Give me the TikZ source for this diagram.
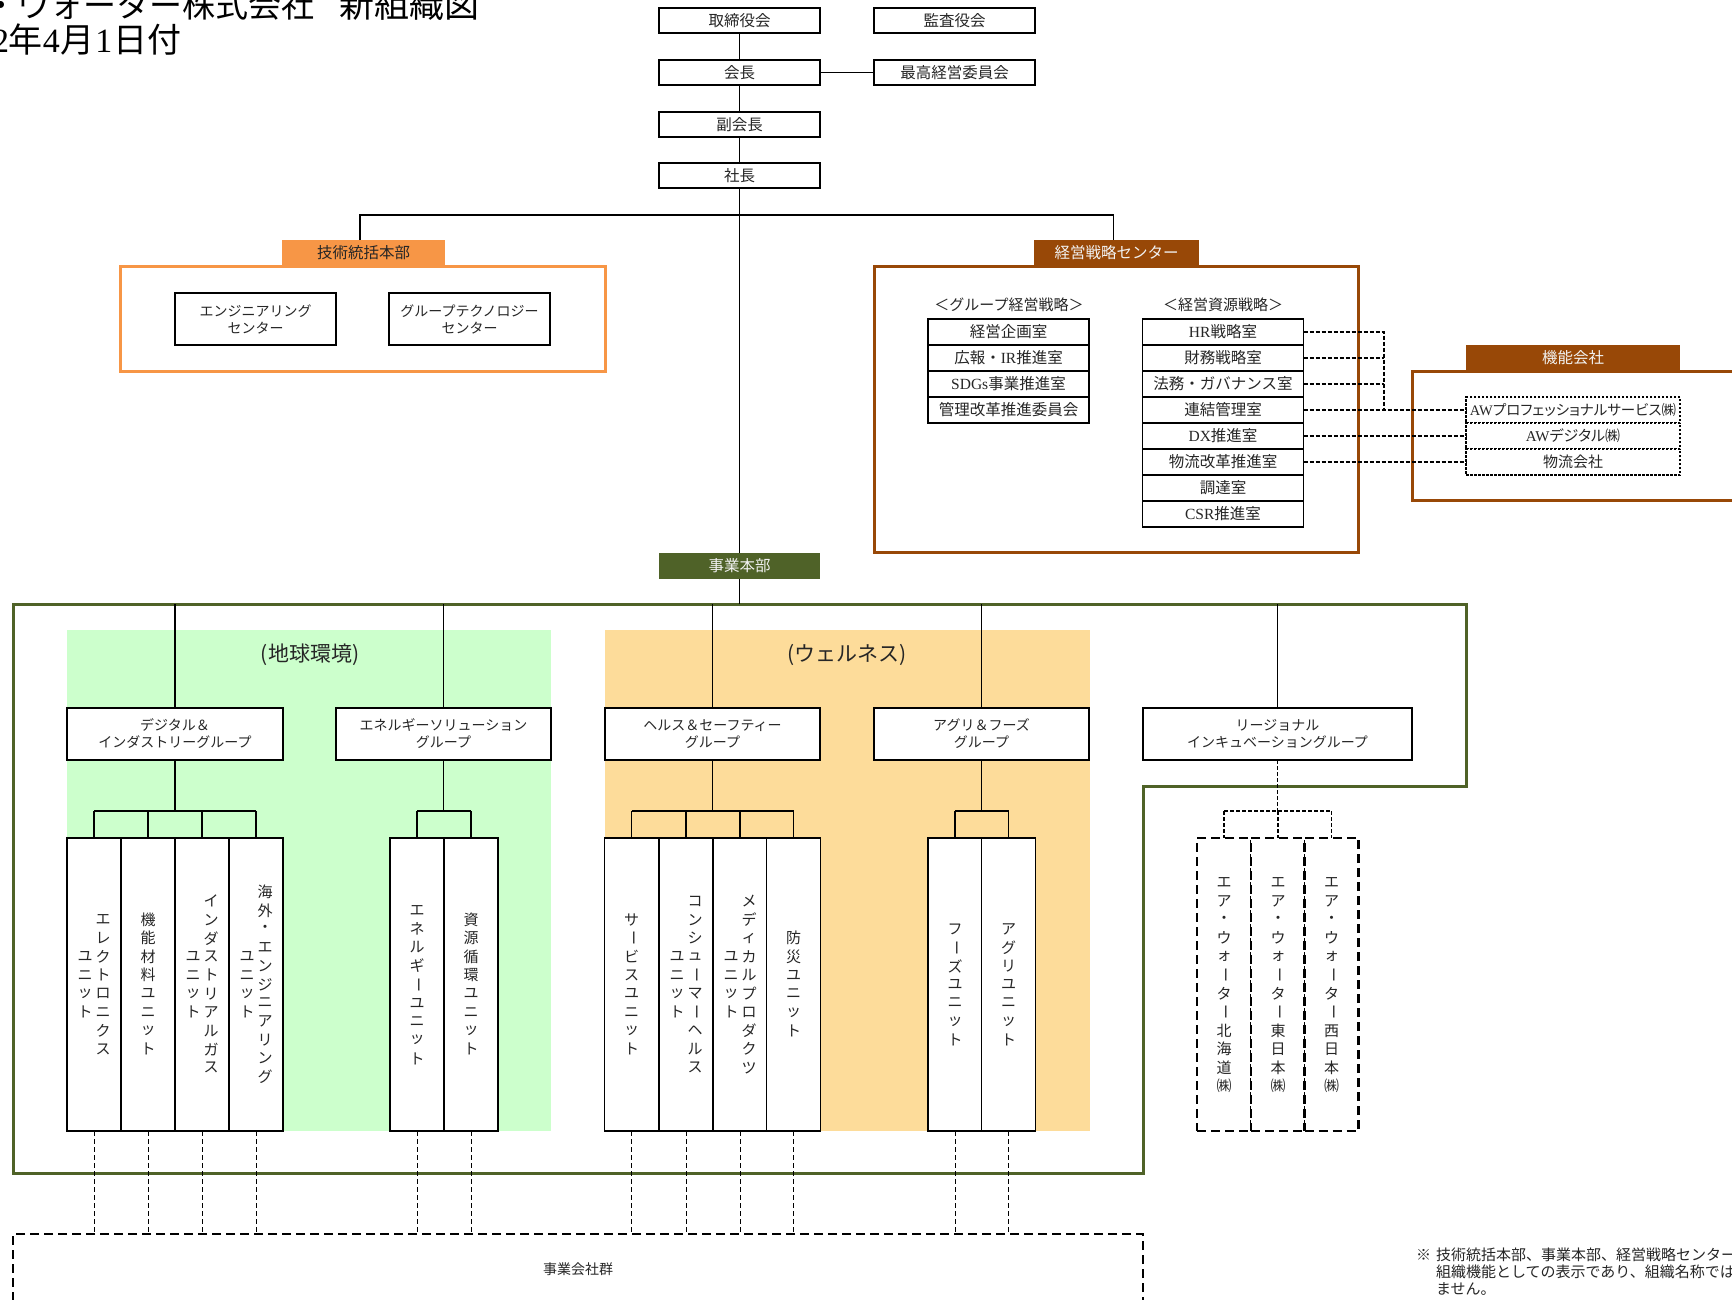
\documentclass[tikz,border=0pt]{standalone}
\usepackage{fontspec}
\usepackage{graphicx}
\setmainfont{Noto Sans CJK JP}
\newfontfamily\lat{Liberation Serif}
\newfontfamily\pfont[RawFeature=+palt]{Noto Sans CJK JP}
\newcommand\fs[2]{\fontsize{#1pt}{#2pt}\selectfont}
\definecolor{orng}{HTML}{F79646}
\definecolor{brwn}{HTML}{984807}
\definecolor{olv}{HTML}{4F6228}
\definecolor{lgrn}{HTML}{CCFFCC}
\definecolor{lyel}{HTML}{FDDC9A}
\definecolor{txt}{HTML}{262626}
\definecolor{wtxt}{HTML}{F2F2F2}

\ExplSyntaxOn
\cs_new_protected:Npn \vt_glyph:n #1
 {
  \str_if_eq:nnTF {#1} {ー}
   { \rotatebox[origin=c]{-90}{ー} }
   { #1 }
 }
\NewDocumentCommand \vcol { m }
 {
  \vbox:n
   {
    \offinterlineskip
    \tl_map_inline:nn {#1}
     {
      \hbox_to_wd:nn {18pt}
       { \hss \vbox_to_ht:nn {18.5pt} { \vss \hbox:n { \vt_glyph:n {##1} } \vss } \hss }
     }
   }
 }
\ExplSyntaxOff
\newcommand\vtwo[2]{$\vcenter{\vcol{#1}}\vcenter{\vcol{#2}}$}
\newcommand\vone[1]{$\vcenter{\vcol{#1}}$}

\begin{document}
\begin{tikzpicture}[x=1pt,y=-1pt,
  every node/.style={inner sep=0pt, outer sep=0pt},
  bx/.style={draw=black, line width=1.8pt, fill=white, align=center, font=\fs{15.5}{18}, text=txt},
  topbx/.style={bx, minimum width=161pt, minimum height=25pt},
  rowbx/.style={bx, minimum width=161pt, minimum height=26pt},
  lab/.style={minimum height=26pt, font=\fs{15.5}{18}},
  gbx/.style={bx, minimum height=52pt, font=\fs{14}{17}},
  ubx/.style={draw=black, line width=1.8pt, fill=white, minimum width=54pt, minimum height=293pt, font=\fs{15}{18}, text=txt},
  rbx/.style={draw=black, dash pattern=on 9pt off 5pt, line width=2.6pt, fill=white, minimum width=54pt, minimum height=293pt, font=\fs{15}{18}, text=txt},
  awbx/.style={draw=black, dash pattern=on 2.5pt off 1.5pt, line width=1.6pt, fill=white, minimum width=214pt, minimum height=26pt, font=\pfont\fs{15}{17}, text=txt},
  con/.style={draw=black, line width=1.4pt},
  dcon/.style={draw=black, dash pattern=on 4pt off 2pt, line width=1.2pt},
  ddrop/.style={draw=black, dash pattern=on 5pt off 3pt, line width=1pt}]
\useasboundingbox (0,0) rectangle (1732,1299);
\fill[white] (0,0) rectangle (1732,1299);

% title
\node[anchor=base east, font=\fs{33}{40}, text=black] (t1) at (315,17) {・ウォーター株式会社};
\node[anchor=base west, font=\fs{35}{40}, text=black] (t2) at (339,17) {新組織図};
\node[anchor=base east, font=\fs{34}{40}, text=black] (t3) at (182,52) {{\lat 2}年{\lat 4}月\kern1.5pt{\lat 1}\kern1.5pt日付};

% top boxes
\node[topbx] (tori) at (739.5,20.5) {取締役会};
\node[topbx] (kansa) at (954.5,20.5) {監査役会};
\node[topbx] (kaicho) at (739.5,72.5) {会長};
\node[topbx] (saiko) at (954.5,72.5) {最高経営委員会};
\node[topbx] (fuku) at (739.5,124.5) {副会長};
\node[topbx] (shacho) at (739.5,175.5) {社長};

% area fills
\fill[lgrn] (67,630) rectangle (551,1131);
\fill[lyel] (605,630) rectangle (1090,1131);

% frames
\draw[orng, line width=3pt] (120,266) rectangle (605,371);
\draw[brwn, line width=3pt] (874,266) rectangle (1358,552);
\draw[brwn, line width=3pt] (1760,371) -- (1412,371) -- (1412,500) -- (1760,500);
\draw[olv, line width=3pt] (13,604) -- (1466,604) -- (1466,786) -- (1143,786) -- (1143,1173) -- (13,1173) -- cycle;

% labels
\node[lab, fill=orng, text=txt, minimum width=163pt] (gtlab) at (363.5,253) {技術統括本部};
\node[lab, fill=brwn, text=wtxt, minimum width=165pt] (kslab) at (1116.5,253) {経営戦略センター};
\node[lab, fill=brwn, text=wtxt, minimum width=214pt, minimum height=25pt] (kilab) at (1573,357.5) {機能会社};
\node[lab, fill=olv, text=wtxt, minimum width=161pt] (jhq) at (739.5,566) {事業本部};

% tech centers
\node[bx, minimum width=161pt, minimum height=52pt, font=\fs{14}{17}] (eng) at (255.5,319) {エンジニアリング\\センター};
\node[bx, minimum width=161pt, minimum height=52pt, font=\fs{14}{17}] (gtc) at (469.5,319) {グループテクノロジー\\センター};

% strategy center
\node[font=\fs{15}{18}, text=txt] (h1) at (1009,305) {＜グループ経営戦略＞};
\node[font=\fs{15}{18}, text=txt] (h2) at (1223,305) {＜経営資源戦略＞};
\node[rowbx] (g1) at (1008.5,332) {経営企画室};
\node[rowbx] (g2) at (1008.5,358) {広報・{\lat IR}推進室};
\node[rowbx] (g3) at (1008.5,384) {{\lat SDGs}事業推進室};
\node[rowbx] (g4) at (1008.5,410) {管理改革推進委員会};
\node[rowbx] (r1) at (1223,332) {{\lat HR}戦略室};
\node[rowbx] (r2) at (1223,358) {財務戦略室};
\node[rowbx] (r3) at (1223,384) {法務・ガバナンス室};
\node[rowbx] (r4) at (1223,410) {連結管理室};
\node[rowbx] (r5) at (1223,436) {{\lat DX}推進室};
\node[rowbx] (r6) at (1223,462) {物流改革推進室};
\node[rowbx] (r7) at (1223,488) {調達室};
\node[rowbx] (r8) at (1223,514) {{\lat CSR}推進室};

% functional companies
\node[awbx, font=\pfont\fs{14.5}{17}] (a1) at (1573,410) {{\lat AW}プロフェッショナルサービス㈱};
\node[awbx] (a2) at (1573,436) {{\lat AW}デジタル㈱};
\node[awbx] (a3) at (1573,462) {物流会社};

% area titles
\node[font=\fs{21}{25}, text=txt] (earth) at (310,655) {(地球環境)};
\node[font=\fs{21}{25}, text=txt] (well) at (847,655) {(ウェルネス)};

% groups
\node[gbx, minimum width=216pt] (dg) at (175,734) {デジタル＆\\インダストリーグループ};
\node[gbx, minimum width=215pt] (eg) at (443.5,734) {エネルギーソリューション\\グループ};
\node[gbx, minimum width=215pt] (hg) at (712.5,734) {ヘルス＆セーフティー\\グループ};
\node[gbx, minimum width=215pt] (ag) at (981.5,734) {アグリ＆フーズ\\グループ};
\node[gbx, minimum width=269pt] (rg) at (1277.5,734) {リージョナル\\インキュベーショングループ};

% units
\node[ubx] (u11) at (94,984.5) {\vtwo{ユニット}{エレクトロニクス}};
\node[ubx] (u12) at (148,984.5) {\vone{機能材料ユニット}};
\node[ubx] (u13) at (202,984.5) {\vtwo{ユニット}{インダストリアルガス}};
\node[ubx] (u14) at (256,984.5) {\vtwo{ユニット}{海外・エンジニアリング}};
\node[ubx] (u21) at (417,984.5) {\vone{エネルギーユニット}};
\node[ubx] (u22) at (471,984.5) {\vone{資源循環ユニット}};
\node[ubx] (u31) at (631.5,984.5) {\vone{サービスユニット}};
\node[ubx] (u32) at (686,984.5) {\vtwo{ユニット}{コンシューマーヘルス}};
\node[ubx] (u33) at (740,984.5) {\vtwo{ユニット}{メディカルプロダクツ}};
\node[ubx] (u34) at (793.5,984.5) {\vone{防災ユニット}};
\node[ubx] (u41) at (955,984.5) {\vone{フーズユニット}};
\node[ubx] (u42) at (1008.5,984.5) {\vone{アグリユニット}};
\node[rbx] (u51) at (1224,984.5) {\vone{エア・ウォーター北海道㈱}};
\node[rbx] (u52) at (1278,984.5) {\vone{エア・ウォーター東日本㈱}};
\node[rbx] (u53) at (1331.5,984.5) {\vone{エア・ウォーター西日本㈱}};

% business companies
\node[draw=black, dash pattern=on 9pt off 5pt, line width=2.6pt, minimum width=1130pt, minimum height=90pt, font=\fs{14}{17}, text=txt] (jb) at (578,1279) {\raisebox{20pt}{事業会社群}};

% footnote
\node[anchor=base west, font=\fs{15}{17}, text=txt] (fnm) at (1416,1260) {※};
\node[anchor=base west, font=\fs{15}{17}, text=txt] (fn1) at (1436,1260) {技術統括本部、事業本部、経営戦略センター};
\node[anchor=base west, font=\fs{15}{17}, text=txt] (fn2) at (1436,1277) {組織機能としての表示であり、組織名称ではあ};
\node[anchor=base west, font=\fs{15}{17}, text=txt] (fn3) at (1436,1294) {ません。};

% connectors top
\draw[con] (tori) -- (kaicho);
\draw[con] (kaicho) -- (fuku);
\draw[con] (fuku) -- (shacho);
\draw[con] (kaicho) -- (saiko);
\draw[con] (shacho.south) -- (jhq.north);
\coordinate (busy) at (739.5,215);
\draw[con] ([xshift=-3.5pt]gtlab.north) |- (busy) -| ([xshift=-3pt]kslab.north);

% dashed to functional companies
\coordinate (dbus) at (1384,0);
\draw[dcon] (r1.east) -- (r1.east -| dbus) -- (r4.east -| dbus);
\draw[dcon] (r2.east) -- (r2.east -| dbus);
\draw[dcon] (r3.east) -- (r3.east -| dbus);
\draw[dcon] (r4.east) -- (a1.west);
\draw[dcon] (r5.east) -- (a2.west);
\draw[dcon] (r6.east) -- (a3.west);

% business HQ to groups
\coordinate (gtop) at (0,604);
\draw[con] (jhq.south) -- (jhq.south |- gtop);
\foreach \g in {dg,eg,hg,ag,rg} \draw[con] (\g.north |- gtop) -- (\g.north);

% brackets
\coordinate (brk) at (0,811);
\draw[con] (dg.south) -- (dg.south |- brk);
\draw[con] (u11.north |- brk) -- (u14.north |- brk);
\foreach \u in {u11,u12,u13,u14} \draw[con] (\u.north |- brk) -- (\u.north);
\draw[con] (eg.south) -- (eg.south |- brk);
\draw[con] (u21.north |- brk) -- (u22.north |- brk);
\foreach \u in {u21,u22} \draw[con] (\u.north |- brk) -- (\u.north);
\draw[con] (hg.south) -- (hg.south |- brk);
\draw[con] (u31.north |- brk) -- (u34.north |- brk);
\foreach \u in {u31,u32,u33,u34} \draw[con] (\u.north |- brk) -- (\u.north);
\draw[con] (ag.south) -- (ag.south |- brk);
\draw[con] (u41.north |- brk) -- (u42.north |- brk);
\foreach \u in {u41,u42} \draw[con] (\u.north |- brk) -- (\u.north);
\draw[dcon] (rg.south) -- (rg.south |- brk);
\draw[dcon] (u51.north |- brk) -- (u53.north |- brk);
\foreach \u in {u51,u52,u53} \draw[dcon] (\u.north |- brk) -- (\u.north);

% drops to business companies
\foreach \u in {u11,u12,u13,u14,u21,u22,u31,u32,u33,u34,u41,u42}
  \draw[ddrop] (\u.south) -- (\u.south |- jb.north);
\end{tikzpicture}
\end{document}
